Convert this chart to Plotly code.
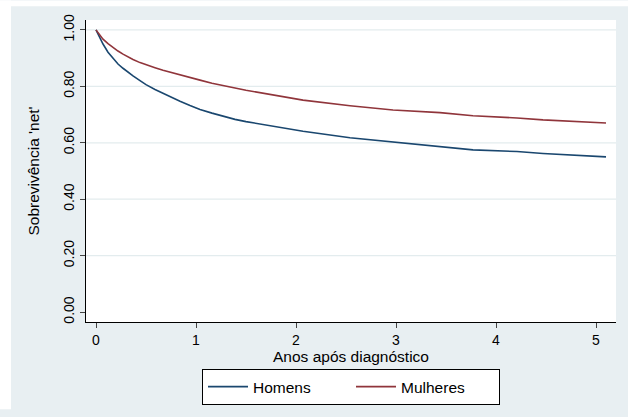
import plotly.graph_objects as go

# ---- data ----
anos = [0.00, 0.04, 0.07, 0.12, 0.17, 0.22, 0.27, 0.32, 0.37, 0.44, 0.50, 0.59,
        0.67, 0.76, 0.84, 0.94, 1.04, 1.16, 1.27, 1.39, 1.50, 1.62, 1.74,
        2.07, 2.54, 2.97, 3.44, 3.77, 4.21, 4.47, 5.10]
homens = [1.000, 0.971, 0.950, 0.921, 0.898, 0.879, 0.864, 0.850, 0.837, 0.820,
          0.806, 0.789, 0.775, 0.760, 0.747, 0.732, 0.718, 0.705, 0.694, 0.683,
          0.675, 0.668, 0.661, 0.641, 0.618, 0.603, 0.587, 0.575, 0.569, 0.562, 0.550]
mulheres = [1.000, 0.979, 0.967, 0.951, 0.937, 0.925, 0.914, 0.904, 0.895, 0.884,
            0.876, 0.866, 0.857, 0.848, 0.840, 0.831, 0.822, 0.811, 0.802, 0.794,
            0.786, 0.779, 0.772, 0.751, 0.731, 0.716, 0.707, 0.696, 0.688, 0.681, 0.670]
series_names = ["Homens", "Mulheres"]
x_ticks = [0, 1, 2, 3, 4, 5]
y_ticks = [0.0, 0.2, 0.4, 0.6, 0.8, 1.0]
y_ticklabels = ["0.00", "0.20", "0.40", "0.60", "0.80", "1.00"]
x_title = "Anos após diagnóstico"
y_title = "Sobrevivência 'net'"

NAVY = "#1a476f"
MAROON = "#90353b"
BG = "#e8eff2"
GRID = "#e3ecee"
FONT = "Liberation Sans, Arial, sans-serif"

fig = go.Figure()
fig.add_trace(go.Scatter(x=anos, y=homens, mode="lines", name=series_names[0],
                         line=dict(color=NAVY, width=1.6)))
fig.add_trace(go.Scatter(x=anos, y=mulheres, mode="lines", name=series_names[1],
                         line=dict(color=MAROON, width=1.6)))

W, H = 628, 417
L, R, T, B = 86, 12, 20, 89
pw, ph = W - L - R, H - T - B

shapes = [
    # thin white bands at the left and top edges of the bluish graph region
    dict(type="rect", xref="paper", yref="paper",
         x0=-L / pw, x1=-(L - 11) / pw, y0=-B / ph, y1=(ph + T) / ph,
         fillcolor="white", line=dict(width=0), layer="below"),
    dict(type="rect", xref="paper", yref="paper",
         x0=-L / pw, x1=(W - L) / pw, y0=(ph + T - 6) / ph, y1=(ph + T) / ph,
         fillcolor="white", line=dict(width=0), layer="below"),
]
for v in y_ticks:
    if v > 0:
        shapes.append(dict(type="line", xref="x domain", yref="y", x0=0, x1=1, y0=v, y1=v,
                           line=dict(color=GRID, width=1.2), layer="below"))

fig.update_layout(
    width=W, height=H,
    margin=dict(l=L, r=R, t=T, b=B, pad=0),
    paper_bgcolor=BG, plot_bgcolor="white",
    font=dict(family=FONT, size=14, color="black"),
    shapes=shapes,
    showlegend=True,
    legend=dict(orientation="h", x=0.5, xanchor="center", y=-(376 - 328) / ph, yanchor="top",
                bgcolor="white", bordercolor="black", borderwidth=1,
                font=dict(size=15.5, family=FONT), itemwidth=40, entrywidth=93,
                tracegroupgap=0),
)
fig.update_xaxes(range=[-0.1, 5.2], tickvals=x_ticks, ticks="outside", ticklen=5,
                 tickcolor="#444", tickwidth=1, showline=True, linecolor="black", linewidth=1,
                 showgrid=False, zeroline=False, tickfont=dict(size=14),
                 title=dict(text=x_title, font=dict(size=15.5), standoff=0), automargin=False)
fig.update_yaxes(range=[-0.035, 1.035], tickvals=y_ticks, ticktext=y_ticklabels,
                 ticks="outside", ticklen=5, tickcolor="#444", tickwidth=1,
                 showline=True, linecolor="black", linewidth=1, showgrid=False,
                 zeroline=False, tickangle=-90, tickfont=dict(size=14),
                 title=dict(text=y_title, font=dict(size=15.5), standoff=17), automargin=False)

fig.write_html("out.html", config={"displayModeBar": False},
               post_script="document.body.style.margin='0px';")
